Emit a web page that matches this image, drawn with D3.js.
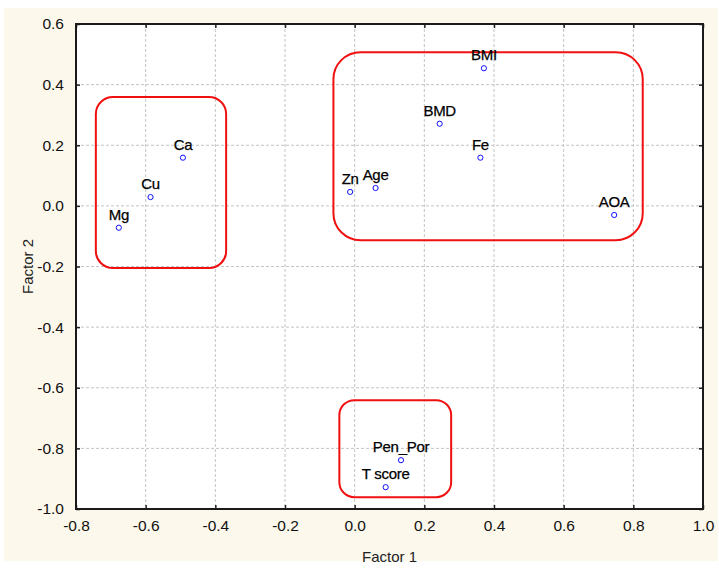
<!DOCTYPE html>
<html>
<head>
<meta charset="utf-8">
<script src="https://cdn.jsdelivr.net/npm/d3@7"></script>
<style>
  body { margin: 0; background: #fff; }
  svg { display: block; font-family: "Liberation Sans", Arial, sans-serif; }
</style>
</head>
<body>
<div id="chart"></div>
<script>
const names = ["Mg", "Cu", "Ca", "Zn", "Age", "BMI", "BMD", "Fe", "AOA", "Pen_Por", "T score"];
const factor1 = [-0.677, -0.586, -0.493, -0.013, 0.060, 0.371, 0.244, 0.361, 0.745, 0.133, 0.089];
const factor2 = [-0.072, 0.029, 0.159, 0.046, 0.059, 0.454, 0.271, 0.159, -0.030, -0.839, -0.928];
const xTicks = [-0.8, -0.6, -0.4, -0.2, 0.0, 0.2, 0.4, 0.6, 0.8, 1.0];
const yTicks = [-1.0, -0.8, -0.6, -0.4, -0.2, 0.0, 0.2, 0.4, 0.6];
// group outlines: [x0, x1, y0, y1, corner radius]
const groups = [
  [-0.743, -0.369, -0.205, 0.359, 17],
  [-0.061, 0.827, -0.113, 0.507, 27],
  [-0.044, 0.277, -0.961, -0.641, 15]
];

const width = 719, height = 571;
const pLeft = 76, pRight = 703, pTop = 24, pBottom = 509;

const svg = d3.select("#chart").append("svg")
  .attr("width", width)
  .attr("height", height);

svg.append("rect")
  .attr("x", 4).attr("y", 8)
  .attr("width", 714).attr("height", 553)
  .attr("fill", "#fdf8ec");

const x = d3.scaleLinear().domain([-0.8, 1.0]).range([pLeft, pRight]);
const y = d3.scaleLinear().domain([-1.0, 0.6]).range([pBottom, pTop]);

svg.append("rect")
  .attr("x", pLeft).attr("y", pTop)
  .attr("width", pRight - pLeft).attr("height", pBottom - pTop)
  .attr("fill", "#fff");

// grid
svg.append("g")
  .selectAll("line")
  .data(xTicks.slice(1, -1))
  .join("line")
  .attr("x1", (d) => x(d)).attr("x2", (d) => x(d))
  .attr("y1", pTop).attr("y2", pBottom)
  .attr("stroke", "#c4c4c4")
  .attr("stroke-dasharray", "3,2");

svg.append("g")
  .selectAll("line")
  .data(yTicks.slice(1, -1))
  .join("line")
  .attr("x1", pLeft).attr("x2", pRight)
  .attr("y1", (d) => y(d)).attr("y2", (d) => y(d))
  .attr("stroke", "#c4c4c4")
  .attr("stroke-dasharray", "3,2");

// axes, ticks inside; plain hyphen for negatives
const fmt = (d) => d.toFixed(1);
const xAxis = d3.axisBottom(x).tickValues(xTicks).tickSize(-4).tickPadding(11).tickFormat(fmt);
const yAxis = d3.axisLeft(y).tickValues(yTicks).tickSize(-4).tickPadding(12).tickFormat(fmt);

svg.append("g")
  .attr("transform", "translate(0," + pBottom + ")")
  .call(xAxis)
  .call((g) => g.select(".domain").remove());

svg.append("g")
  .attr("transform", "translate(" + pLeft + ",0)")
  .call(yAxis)
  .call((g) => g.select(".domain").remove());

svg.append("g")
  .attr("transform", "translate(0," + pTop + ")")
  .call(d3.axisTop(x).tickValues(xTicks).tickSize(-4).tickFormat(""))
  .call((g) => g.select(".domain").remove());

svg.append("g")
  .attr("transform", "translate(" + pRight + ",0)")
  .call(d3.axisRight(y).tickValues(yTicks).tickSize(-4).tickFormat(""))
  .call((g) => g.select(".domain").remove());

svg.selectAll(".tick line").attr("stroke", "#222").attr("stroke-width", 1.5);
svg.selectAll(".tick text")
  .attr("font-size", 15.5)
  .attr("font-family", "'Liberation Sans', Arial, sans-serif")
  .attr("fill", "#111");

// frame
svg.append("rect")
  .attr("x", pLeft).attr("y", pTop)
  .attr("width", pRight - pLeft).attr("height", pBottom - pTop)
  .attr("fill", "none")
  .attr("stroke", "#1a1a1a")
  .attr("stroke-width", 2);

// axis titles
svg.append("text")
  .attr("x", (pLeft + pRight) / 2)
  .attr("y", 562)
  .attr("text-anchor", "middle")
  .attr("font-size", 15)
  .attr("fill", "#222")
  .text("Factor 1");

svg.append("text")
  .attr("transform", "rotate(-90)")
  .attr("x", -(pTop + pBottom) / 2)
  .attr("y", 33)
  .attr("text-anchor", "middle")
  .attr("font-size", 15)
  .attr("fill", "#222")
  .text("Factor 2");

// group outlines
svg.append("g")
  .selectAll("rect")
  .data(groups)
  .join("rect")
  .attr("x", (d) => x(d[0]))
  .attr("y", (d) => y(d[3]))
  .attr("width", (d) => x(d[1]) - x(d[0]))
  .attr("height", (d) => y(d[2]) - y(d[3]))
  .attr("rx", (d) => d[4])
  .attr("fill", "none")
  .attr("stroke", "#f01010")
  .attr("stroke-width", 2);

// points
const pts = names.map((n, i) => ({ name: n, f1: factor1[i], f2: factor2[i] }));

svg.append("g")
  .selectAll("circle")
  .data(pts)
  .join("circle")
  .attr("cx", (d) => x(d.f1))
  .attr("cy", (d) => y(d.f2))
  .attr("r", 2.6)
  .attr("fill", "#fff")
  .attr("stroke", "#1010ff")
  .attr("stroke-width", 1);

svg.append("g")
  .selectAll("text")
  .data(pts)
  .join("text")
  .attr("x", (d) => x(d.f1))
  .attr("y", (d) => y(d.f2) - 8)
  .attr("text-anchor", "middle")
  .attr("font-size", 15)
  .attr("fill", "#000")
  .attr("stroke", "#000")
  .attr("stroke-width", 0.25)
  .attr("letter-spacing", "-0.3")
  .text((d) => d.name);
</script>
</body>
</html>
